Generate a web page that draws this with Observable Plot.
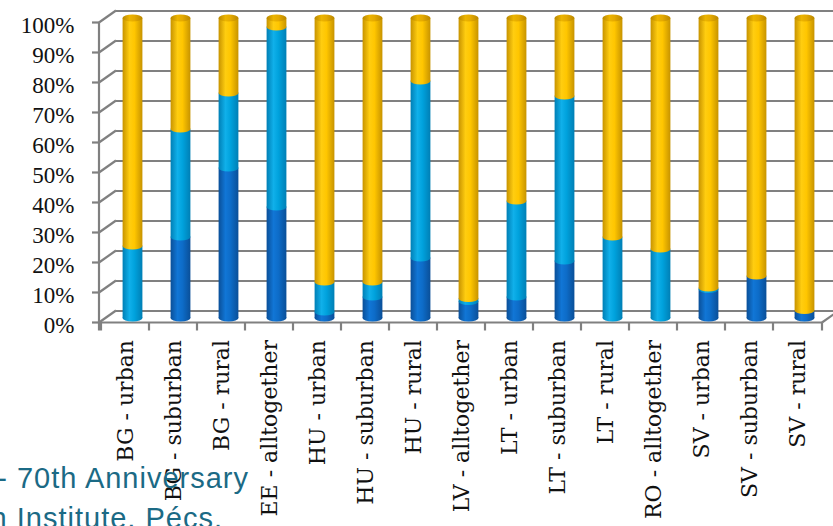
<!DOCTYPE html>
<html><head><meta charset="utf-8">
<script src="https://cdn.jsdelivr.net/npm/d3@7"></script>
<script src="https://cdn.jsdelivr.net/npm/@observablehq/plot@0.6"></script>
<style>
html,body{margin:0;padding:0;background:#fff;overflow:hidden}
#wrap{position:relative;width:833px;height:526px;overflow:hidden}
.wm{position:absolute;font-family:"Liberation Sans",Arial,sans-serif;color:#1b6a85;font-size:29px;letter-spacing:1px;white-space:nowrap;line-height:1}
</style></head><body>
<div id="wrap"><div id="chart"></div>
<div class="wm" style="right:584px;top:463.5px">- 70th Anniversary</div>
<div class="wm" style="right:610px;top:503.5px">h Institute, Pécs.</div>
</div>
<script>
const categories = ["BG - urban","BG - suburban","BG - rural","EE - alltogether","HU - urban","HU - suburban","HU - rural","LV - alltogether","LT - urban","LT - suburban","LT - rural","RO - alltogether","SV - urban","SV - suburban","SV - rural"];
const dark   = [0, 27, 50, 37, 2, 7, 20, 5.5, 7, 19, 0, 0, 9.5, 14, 2.5];
const light  = [24, 36, 25, 60, 10, 5, 59, 1, 32, 55, 27, 23, 0.5, 0, 0];
const yellow = [76, 37, 25, 3, 88, 88, 21, 93.5, 61, 26, 73, 77, 90, 86, 97.5];
const seriesNames = ["dark", "light", "yellow"];
const gridTicks = [0,10,20,30,40,50,60,70,80,90,100];

const seriesValues = {dark, light, yellow};
const rows = [];
categories.forEach((c, i) => seriesNames.forEach(s => rows.push({cat: c, series: s, value: seriesValues[s][i]})));

const DEPTH_X = 17, DEPTH_Y = -12, BAR_DX = 7.5, BAR_DY = -4.5;
const GRID = "#808080", GW = 2.2;

function defs() {
  const d = d3.create("svg:defs");
  const mk = (id, edge, mid, hi) => {
    const g = d.append("linearGradient").attr("id", id).attr("x1", 0).attr("x2", 1).attr("y1", 0).attr("y2", 0);
    [[0, edge], [0.35, hi], [0.6, mid], [1, edge]].forEach(([o, c]) => g.append("stop").attr("offset", o).attr("stop-color", c));
  };
  mk("gDark", "#0a4f98", "#0d6cc8", "#1176d6");
  mk("gLight", "#007fb5", "#00a2dd", "#10b0ea");
  mk("gYellow", "#c79300", "#ffc600", "#ffcd10");
  mk("gCap", "#b88600", "#e4a900", "#ecb400");
  return d.node();
}

function frame3d(index, scales, values, dims) {
  const {x, y} = scales;
  const L = dims.marginLeft, R = dims.width - dims.marginRight, y0 = y(0);
  const g = d3.create("svg:g").attr("stroke", GRID).attr("stroke-width", GW).attr("fill", "none");
  for (const t of gridTicks) {
    g.append("line").attr("x1", L).attr("y1", y(t)).attr("x2", L + DEPTH_X).attr("y2", y(t) + DEPTH_Y);
    g.append("line").attr("x1", L - 7).attr("y1", y(t)).attr("x2", L).attr("y2", y(t));
  }
  g.append("line").attr("x1", L).attr("x2", L).attr("y1", y(100)).attr("y2", y0 + 8);
  g.append("line").attr("x1", L).attr("x2", R).attr("y1", y0).attr("y2", y0);
  g.append("line").attr("x1", R).attr("x2", R + DEPTH_X).attr("y1", y0).attr("y2", y0 + DEPTH_Y);
  const bounds = categories.map(c => x(c)).concat([R]);
  for (const b of bounds) g.append("line").attr("x1", b).attr("x2", b).attr("y1", y0).attr("y2", y0 + 8);
  return g.node();
}

function cylEnds(index, scales, values, dims) {
  const {x, y} = scales;
  const step = x(categories[1]) - x(categories[0]);
  const g = d3.create("svg:g");
  categories.forEach((c, i) => {
    const cx = x(c) + step / 2 + BAR_DX;
    const segs = [[dark[i], "url(#gDark)"], [light[i], "url(#gLight)"], [yellow[i], "url(#gYellow)"]];
    let acc = 0;
    for (const [v, f] of segs) {
      if (v > 0) g.append("ellipse").attr("cx", cx).attr("cy", y(acc) + BAR_DY).attr("rx", 10).attr("ry", 3.5).attr("fill", f);
      acc += v;
    }
    g.append("ellipse").attr("cx", cx).attr("cy", y(acc) + BAR_DY).attr("rx", 10).attr("ry", 3.5).attr("fill", "url(#gCap)");
  });
  return g.node();
}

const chart = Plot.plot({
  width: 833,
  height: 526,
  marginLeft: 99,
  marginRight: 11,
  marginTop: 22.5,
  marginBottom: 203.5,
  style: {background: "transparent", overflow: "visible"},
  x: {type: "band", domain: categories, padding: 0, axis: null},
  y: {domain: [0, 100], axis: null},
  color: {type: "ordinal", domain: seriesNames, range: ["url(#gDark)", "url(#gLight)", "url(#gYellow)"]},
  marks: [
    defs,
    Plot.ruleY(gridTicks, {stroke: GRID, strokeWidth: GW, dx: DEPTH_X, dy: DEPTH_Y}),
    frame3d,
    Plot.axisY({ticks: gridTicks, label: null, tickSize: 0, tickPadding: 25, tickFormat: d => d + "%", fontSize: 23, fontFamily: "Liberation Serif", dy: 3, fill: "#111"}),
    Plot.axisX({label: null, tickRotate: -90, tickSize: 0, tickPadding: 17, fontSize: 22, fontFamily: "DejaVu Serif", fill: "#111"}),
    Plot.barY(rows, Plot.stackY({x: "cat", y: "value", fill: "series", insetLeft: 14.1, insetRight: 14.1, dx: BAR_DX, dy: BAR_DY})),
    cylEnds
  ]
});
document.getElementById("chart").appendChild(chart);
</script>
</body></html>
